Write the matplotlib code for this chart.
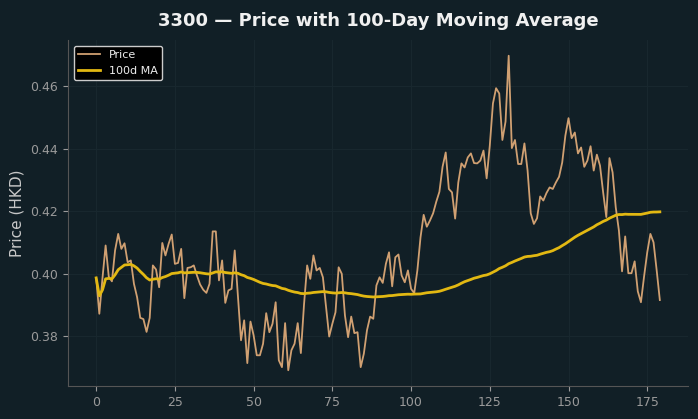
import numpy as np
import pandas as pd
import matplotlib
matplotlib.use("Agg")
import matplotlib.pyplot as plt

# Daily closing prices (HKD)
price = [
    0.3986, 0.3871, 0.3985, 0.4090, 0.3990, 0.3975, 0.4074, 0.4127, 0.4079, 0.4097,
    0.4036, 0.4042, 0.3967, 0.3924, 0.3858, 0.3854, 0.3813, 0.3858, 0.4026, 0.4013,
    0.3956, 0.4098, 0.4058, 0.4095, 0.4125, 0.4031, 0.4034, 0.4079, 0.3921, 0.4018,
    0.4020, 0.4026, 0.3994, 0.3965, 0.3948, 0.3938, 0.3967, 0.4135, 0.4135, 0.3978,
    0.4042, 0.3906, 0.3946, 0.3951, 0.4074, 0.3930, 0.3786, 0.3850, 0.3713, 0.3846,
    0.3802, 0.3738, 0.3738, 0.3775, 0.3873, 0.3812, 0.3839, 0.3908, 0.3722, 0.3700,
    0.3841, 0.3690, 0.3754, 0.3775, 0.3841, 0.3745, 0.3900, 0.4026, 0.3983, 0.4058,
    0.4010, 0.4018, 0.3988, 0.3892, 0.3798, 0.3839, 0.3876, 0.4020, 0.3999, 0.3866,
    0.3796, 0.3862, 0.3809, 0.3812, 0.3700, 0.3743, 0.3818, 0.3862, 0.3855, 0.3962,
    0.3988, 0.3970, 0.4031, 0.4068, 0.3959, 0.4052, 0.4061, 0.3994, 0.3972, 0.4010,
    0.3951, 0.3937, 0.4010, 0.4116, 0.4188, 0.4150, 0.4170, 0.4193, 0.4230, 0.4262,
    0.4342, 0.4388, 0.4271, 0.4260, 0.4176, 0.4292, 0.4353, 0.4340, 0.4372, 0.4385,
    0.4354, 0.4353, 0.4362, 0.4394, 0.4305, 0.4410, 0.4545, 0.4594, 0.4577, 0.4428,
    0.4487, 0.4698, 0.4402, 0.4428, 0.4351, 0.4351, 0.4417, 0.4330, 0.4193, 0.4159,
    0.4177, 0.4247, 0.4234, 0.4258, 0.4276, 0.4271, 0.4292, 0.4310, 0.4356, 0.4442,
    0.4498, 0.4434, 0.4452, 0.4385, 0.4404, 0.4342, 0.4362, 0.4408, 0.4330, 0.4381,
    0.4346, 0.4260, 0.4181, 0.4370, 0.4324, 0.4212, 0.4138, 0.4007, 0.4119, 0.4001,
    0.4001, 0.4039, 0.3943, 0.3908, 0.3991, 0.4068, 0.4127, 0.4100, 0.4010, 0.3915,
]
ticker = "3300"
window = 100

s = pd.Series(price)
ma = s.rolling(window, min_periods=1).mean()

bg = "#111f26"
fig = plt.figure(figsize=(6.98, 4.19), dpi=100, facecolor=bg)
ax = fig.add_axes([0.0974, 0.0788, 0.8883, 0.8257], facecolor=bg)

ax.plot(s.index, s.values, color="#d0a072", lw=1.3, label="Price")
ax.plot(ma.index, ma.values, color="#e2b812", lw=2.0, label="100d MA")

ax.set_title(f"{ticker} \u2014 Price with 100-Day Moving Average",
             color="#f0f0f0", fontsize=13, fontweight="bold", pad=10)
ax.set_ylabel("Price (HKD)", color="#c8c8c8", fontsize=11)
ax.set_xticks([0, 25, 50, 75, 100, 125, 150, 175])
ax.set_yticks([0.38, 0.40, 0.42, 0.44, 0.46])
ax.tick_params(colors="#9a9a9a", labelsize=9)
ax.grid(True, color="#18272e", lw=0.8)
ax.set_axisbelow(True)
for side in ["top", "right"]:
    ax.spines[side].set_visible(False)
for side in ["left", "bottom"]:
    ax.spines[side].set_color("#555555")

leg = ax.legend(loc="upper left", fontsize=8, facecolor="#000000",
                edgecolor="#cccccc", framealpha=1.0)
for t in leg.get_texts():
    t.set_color("#eeeeee")

fig.savefig("out.png", dpi=100, facecolor=bg)
